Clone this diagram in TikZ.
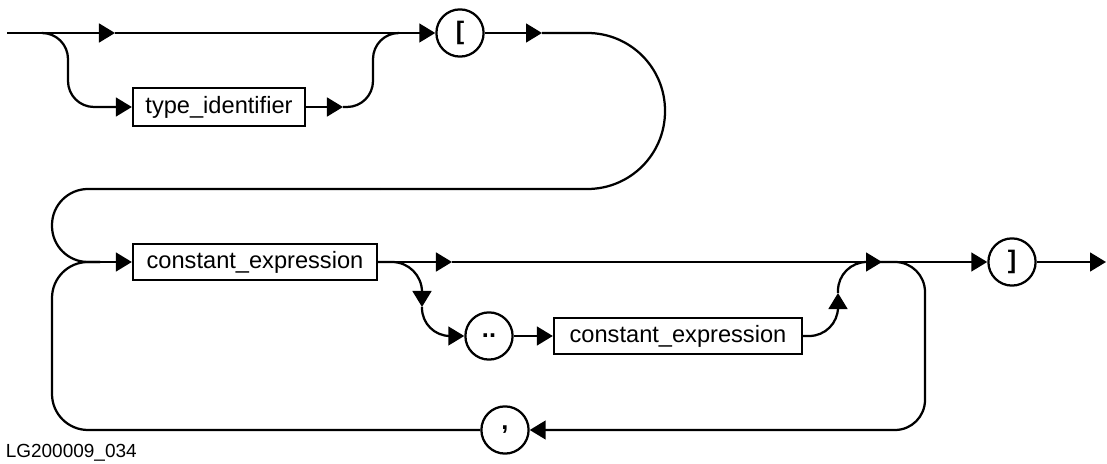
\documentclass[tikz,border=0pt]{standalone}
\usepackage{fontspec}
\setmainfont{Liberation Sans}
\usetikzlibrary{arrows.meta}

\begin{document}
\begin{tikzpicture}[
  x=0.025cm, y=-0.025cm,
  line width=1.6pt,
  >={Triangle[length=0.4cm, width=0.47cm]},
  box/.style={draw, minimum height=0.9cm, inner sep=0pt, font=\fontsize{16.8}{20}\selectfont},
  term/.style={draw, circle, minimum size=1.18cm, inner sep=0pt, font=\fontsize{18}{21}\selectfont\bfseries}
]
  \useasboundingbox (0,0) rectangle (1107,464);

  \node[box, minimum width=4.3cm, minimum height=0.95cm] (tid) at (219,107) {type\_identifier};
  \node[box, minimum width=6.1cm] (ce1) at (255,262) {constant\_expression};
  \node[box, minimum width=6.2cm] (ce2) at (678,336) {constant\_expression};
  \node[term] (lbr)   at (460,33)   {[};
  \node[term] (dots)  at (489,336)  {..};
  \node[term] (rbr)   at (1012,262) {]};
  \node[term] (comma) at (505,430)  {,};

  % optional type_identifier
  \coordinate (in) at (7,33);
  \coordinate (split) at (42,33);
  \coordinate (a1) at (115,33);
  \coordinate (a2) at (343,107);
  \coordinate (join1) at (399,33);
  \draw[->] (in) -- (a1);
  \draw[->] (a1) -- (lbr);
  \draw[->, rounded corners=0.65cm] (split) -| (68,107) -- (tid);
  \draw[->] (tid) -- (a2);
  \draw[rounded corners=0.65cm] (a2) -| (373,33) -- (join1);

  % turn from [ down to the index row
  \coordinate (a3) at (542,33);
  \coordinate (c1) at (380,189);
  \coordinate (j2) at (100,262);
  \draw[->] (lbr) -- (a3);
  \draw[rounded corners=1.94cm] (a3) -- (665,33) -- (665,189) -- (c1);
  \draw[rounded corners=0.9cm] (c1) -- (52,189) -- (52,262) -- (j2);
  \draw[->] (j2) -- (ce1);

  % index row
  \coordinate (a4) at (452,262);
  \coordinate (m2) at (882,262);
  \coordinate (out) at (1106,262);
  \draw[->] (ce1) -- (a4);
  \draw[->] (a4) -- (m2);
  \draw[->] (m2) -- (rbr);
  \draw[->] (rbr) -- (out);

  % range bound
  \coordinate (a5) at (422,307);
  \coordinate (a6) at (838,293);
  \draw[->, rounded corners=0.75cm] (ce1.east) -| (a5);
  \draw[->, rounded corners=0.7cm] (a5) |- (dots);
  \draw[->] (dots) -- (ce2);
  \draw[->, rounded corners=0.72cm] (ce2.east) -| (a6);
  \draw[rounded corners=0.72cm] (a6) |- (m2);

  % comma repetition
  \draw[->, rounded corners=0.75cm] (m2) -- (925,262) -- (925,430) -- (comma);
  \draw[rounded corners=0.9cm] (comma) -- (52,430) -- (52,262) -- (j2);

  \node[anchor=west, font=\fontsize{13.5}{16}\selectfont] (fig) at (0,453) {LG200009\_034};
\end{tikzpicture}
\end{document}
